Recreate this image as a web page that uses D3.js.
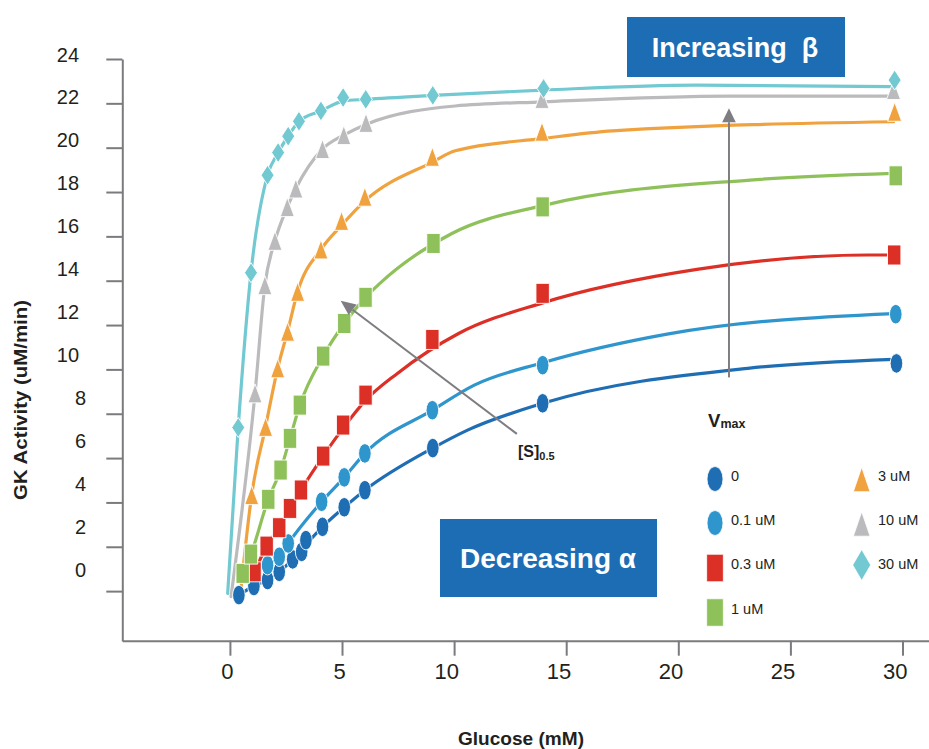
<!DOCTYPE html>
<html><head><meta charset="utf-8">
<script src="https://cdn.jsdelivr.net/npm/d3@7"></script>
<style>
body{margin:0;background:#fff}
svg{display:block}
text{font-family:"Liberation Sans",Arial,Helvetica,sans-serif}
</style>
</head><body>
<svg id="c" width="929" height="749"></svg>
<script>
// ---------- data ----------
const seriesNames  = ["0","0.1 uM","0.3 uM","1 uM","3 uM","10 uM","30 uM"];
const seriesColors = ["#1f6eb3","#2f95cd","#dc3027","#8fc15a","#f0a23f","#bbbbbd","#72c9d1"];
const seriesShapes = ["ellipse","ellipse","rect","rect","triangle","triangle","diamond"];

const xTicks = [0,5,10,15,20,25,30];
const yTicks = [0,2,4,6,8,10,12,14,16,18,20,22,24];

// measured points [glucose mM, GK activity uM/min]
const pts0 = [[0.4,-0.18],[1.07,0.23],[1.68,0.5],[2.2,0.87],[2.8,1.43],[3.2,1.77],[3.39,2.3],[4.13,2.9],[5.1,3.78],[6.02,4.55],[9.05,6.45],[13.95,8.47],[29.73,10.27]];
const pts1 = [[1.68,1.17],[2.2,1.55],[2.6,2.15],[4.09,4.03],[5.1,5.13],[6.02,6.21],[9.03,8.16],[13.95,10.19],[29.7,12.49]];
const pts2 = [[1.1,0.87],[1.64,2.03],[2.2,2.86],[2.68,3.73],[3.17,4.56],[4.16,6.09],[5.05,7.49],[6.05,8.84],[9.03,11.35],[13.95,13.43],[29.63,15.16]];
const pts3 = [[0.57,0.8],[0.94,1.67],[1.71,4.14],[2.26,5.46],[2.68,6.89],[3.12,8.39],[4.16,10.6],[5.1,12.07],[6.05,13.25],[9.08,15.68],[13.95,17.33],[29.7,18.73]];
const pts4 = [[0.97,4.33],[1.59,7.41],[2.13,10.05],[2.57,11.7],[3.02,13.5],[4.06,15.41],[4.98,16.7],[6.02,17.79],[9.03,19.59],[13.92,20.72],[29.65,21.62]];
const pts5 = [[1.12,8.92],[1.56,13.8],[2.01,15.8],[2.56,17.32],[2.94,18.16],[4.13,19.94],[5.08,20.57],[6.07,21.12],[13.92,22.2],[29.6,22.6]];
const pts6 = [[0.37,7.38],[0.94,14.36],[1.68,18.76],[2.15,19.78],[2.6,20.52],[3.08,21.19],[4.06,21.66],[5.05,22.26],[6.06,22.18],[9.05,22.36],[13.99,22.67],[29.65,23.05]];

// fitted curves [glucose mM, GK activity uM/min]
const fit0 = [[0.4,-0.18],[1.07,0.23],[1.68,0.5],[2.2,0.87],[2.8,1.43],[3.3,2.0],[4.13,2.9],[5.1,3.78],[6.02,4.55],[9.05,6.45],[10.6,7.26],[13.95,8.47],[23.1,10.05],[29.6,10.45]];
const fit1 = [[1.68,1.17],[2.2,1.55],[2.6,2.15],[4.09,4.03],[5.1,5.13],[6.02,6.21],[9.03,8.16],[10.9,9.29],[13.95,10.3],[19.5,11.59],[29.6,12.52]];
const fit2 = [[1.1,0.87],[1.64,2.03],[2.2,2.86],[2.68,3.73],[3.17,4.56],[4.16,6.09],[5.05,7.35],[6.05,8.6],[7.47,9.82],[10.2,11.62],[13.95,13.0],[20.83,14.51],[28.47,15.16],[29.6,15.16]];
const fit3 = [[0.57,0.8],[0.94,1.67],[1.71,4.14],[2.26,5.46],[2.68,6.89],[3.12,8.39],[4.16,10.6],[5.1,12.07],[6.05,13.25],[6.69,13.88],[9.9,16.13],[14,17.4],[23.2,18.54],[29.6,18.84]];
const fit4 = [[0.45,-0.3],[0.97,4.33],[1.59,7.41],[2.13,10.05],[2.57,11.7],[3.02,13.5],[4.06,15.41],[4.98,16.5],[6.02,17.6],[9.03,19.35],[10.05,19.86],[14,20.42],[17.07,20.76],[29.6,21.17]];
const fit5 = [[0.05,-0.25],[1.12,8.92],[1.56,13.8],[2.01,15.8],[2.56,17.32],[2.94,18.16],[4.13,19.94],[5.08,20.57],[6.07,21.05],[10.05,21.88],[14,22.07],[22.3,22.33],[29.6,22.33]];
const fit6 = [[-0.1,-0.1],[0.37,7.38],[0.94,14.36],[1.68,18.76],[2.15,19.78],[2.6,20.52],[3.08,21.19],[4.06,21.66],[5.05,22.1],[6.06,22.18],[9.05,22.36],[14,22.6],[20.8,22.82],[29.6,22.75]];

// annotation arrows [tail, tip] in data units
const vmaxArrow = [[22.26,9.64],[22.26,21.78]];
const s05Arrow  = [[12.8,7.09],[4.94,13.1]];

// ---------- build ----------
const allPts = [pts0,pts1,pts2,pts3,pts4,pts5,pts6];
const allFits = [fit0,fit1,fit2,fit3,fit4,fit5,fit6];
const series = seriesNames.map((n,i)=>({name:n,color:seriesColors[i],shape:seriesShapes[i],pts:allPts[i],fit:allFits[i]}));

const svg = d3.select("#c");
svg.append("rect").attr("width",929).attr("height",749).attr("fill","#fff");

const x = d3.scaleLinear().domain([-4.8,31.2]).range([122.3,929.4]);
const y = d3.scaleLinear().domain([-2.25,24]).range([641,59]);
const yLabel = d3.scaleLinear().domain([0,24]).range([569.3,54]);
const axisCol = "#7b7b7f";

// y axis
const gy = svg.append("g").attr("transform","translate(122.3,0)")
  .call(d3.axisLeft(y).tickValues(yTicks).tickSizeInner(16).tickSizeOuter(0).tickPadding(3).tickFormat(d3.format("d")));
gy.select(".domain").attr("stroke",axisCol).attr("stroke-width",2);
gy.selectAll(".tick line").attr("stroke",axisCol).attr("stroke-width",2);
gy.selectAll(".tick text")
  .attr("x",d=> d>=10 ? -43.3 : -36.3)
  .attr("y",d=> yLabel(d)-y(d))
  .attr("dy","0.35em")
  .attr("text-anchor","end")
  .attr("fill","#231f20")
  .style("font-size","20px").style("font-family","'Liberation Sans',Arial,sans-serif");

// x axis
const gx = svg.append("g").attr("transform","translate(0,640.7)")
  .call(d3.axisBottom(x).tickValues(xTicks).tickSizeInner(15).tickSizeOuter(0).tickFormat(d3.format("d")));
gx.select(".domain").attr("stroke",axisCol).attr("stroke-width",2);
gx.selectAll(".tick line").attr("stroke",axisCol).attr("stroke-width",2);
gx.selectAll(".tick text")
  .attr("x",d=> d<10 ? -3 : -7.8)
  .attr("y",31).attr("dy","0.35em")
  .attr("fill","#231f20")
  .style("font-size","22px").style("font-family","'Liberation Sans',Arial,sans-serif");

// axis titles
svg.append("text").attr("x",521).attr("y",745).attr("text-anchor","middle")
  .attr("font-weight","bold").attr("font-size",18).attr("fill","#231f20")
  .attr("textLength",126).attr("lengthAdjust","spacingAndGlyphs")
  .text("Glucose (mM)");
svg.append("text").attr("transform","translate(27,400) rotate(-90)").attr("text-anchor","middle")
  .attr("font-weight","bold").attr("font-size",19).attr("fill","#231f20")
  .attr("textLength",200).attr("lengthAdjust","spacingAndGlyphs")
  .text("GK Activity (uM/min)");

// shape generator
function shapePath(type,w,h){
  if(type==="ellipse") return `M${-w/2},0a${w/2},${h/2} 0 1,0 ${w},0a${w/2},${h/2} 0 1,0 ${-w},0Z`;
  if(type==="rect") return `M${-w/2},${-h/2}h${w}v${h}h${-w}Z`;
  if(type==="triangle") return `M0,${-h/2}L${w/2},${h/2}L${-w/2},${h/2}Z`;
  return `M0,${-h/2}L${w/2},0L0,${h/2}L${-w/2},0Z`;
}
const markSize = {ellipse:[12.6,19.6],rect:[13.4,20],triangle:[14,19],diamond:[13,20]};
const legSize  = {ellipse:[16,25],rect:[16.7,27.5],triangle:[16.7,24.4],diamond:[18,31]};

// lines
const line = d3.line().x(d=>x(d[0])).y(d=>y(d[1])).curve(d3.curveMonotoneX);
svg.append("g").selectAll("path").data(series).join("path")
  .attr("d",d=>line(d.fit)).attr("fill","none")
  .attr("stroke",d=>d.color).attr("stroke-width",3.2)
  .attr("stroke-linejoin","round").attr("stroke-linecap","round");

// markers
const gm = svg.append("g");
series.forEach(s=>{
  const [w,h] = markSize[s.shape];
  gm.append("g").selectAll("path").data(s.pts).join("path")
    .attr("transform",d=>`translate(${x(d[0])},${y(d[1])})`)
    .attr("d",shapePath(s.shape,w,h))
    .attr("fill",s.color).attr("stroke","#fff").attr("stroke-width",0.9);
});

// arrows
function arrow(tail,tip,len,half){
  const x0=x(tail[0]),y0=y(tail[1]),x1=x(tip[0]),y1=y(tip[1]);
  const dx=x0-x1,dy=y0-y1,L=Math.hypot(dx,dy),ux=dx/L,uy=dy/L;
  const bx=x1+ux*len,by=y1+uy*len;
  svg.append("line").attr("x1",x0).attr("y1",y0).attr("x2",bx).attr("y2",by)
    .attr("stroke","#7d7d82").attr("stroke-width",2);
  svg.append("path").attr("d",`M${x1},${y1}L${bx-uy*half},${by+ux*half}L${bx+uy*half},${by-ux*half}Z`)
    .attr("fill","#7d7d82");
}
arrow(vmaxArrow[0],vmaxArrow[1],14,6.8);
arrow(s05Arrow[0],s05Arrow[1],15,6.5);

// [S]0.5 label
const sl = svg.append("text").attr("x",518).attr("y",457).attr("font-weight","bold").attr("fill","#231f20");
sl.append("tspan").attr("font-size",16).text("[S]");
sl.append("tspan").attr("font-size",11).attr("dy",3).text("0.5");

// Vmax label
const vl = svg.append("text").attr("x",708).attr("y",426.7).attr("font-weight","bold").attr("fill","#231f20");
vl.append("tspan").attr("font-size",18.6).text("V");
vl.append("tspan").attr("font-size",12.5).attr("dy",1).text("max");

// boxes
const boxBlue = "#1c6db4";
svg.append("rect").attr("x",627).attr("y",17).attr("width",218).attr("height",60).attr("fill",boxBlue);
svg.append("text").attr("x",735).attr("y",48).attr("dy","0.35em").attr("text-anchor","middle")
  .style("white-space","pre")
  .attr("fill","#fff").attr("font-weight","bold").attr("font-size",27).text("Increasing  β");
svg.append("rect").attr("x",440).attr("y",519).attr("width",217).attr("height",78).attr("fill",boxBlue);
svg.append("text").attr("x",548).attr("y",558).attr("dy","0.35em").attr("text-anchor","middle")
  .attr("fill","#fff").attr("font-weight","bold").attr("font-size",28).text("Decreasing α");

// legend
const legPos = [[715,479],[715,523],[715,568],[715,612.5],[861.7,479.5],[861.7,524],[861.7,565]];
const legLabelY = [476,519.5,564,608.5,476,520,564];
const gl = svg.append("g");
series.forEach((s,i)=>{
  const [w,h] = legSize[s.shape];
  gl.append("path").attr("transform",`translate(${legPos[i][0]},${legPos[i][1]})`)
    .attr("d",shapePath(s.shape,w,h)).attr("fill",s.color).attr("stroke","#fff").attr("stroke-width",0.8);
  gl.append("text").attr("x", i<4 ? 731 : 878).attr("y",legLabelY[i]).attr("dy","0.35em")
    .attr("font-size",14.5).attr("fill","#231f20").text(s.name);
});
</script>
</body></html>
